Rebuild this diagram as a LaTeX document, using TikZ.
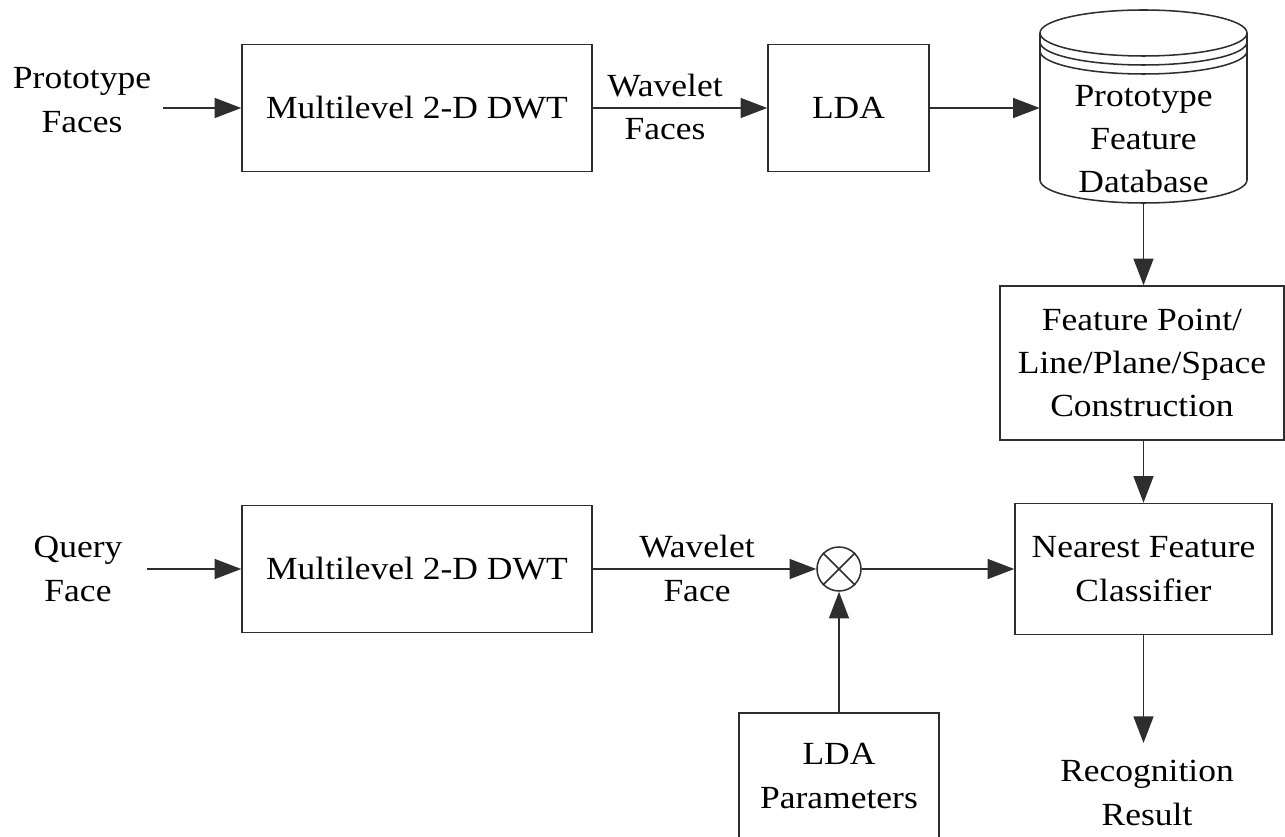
\documentclass[tikz,border=0pt]{standalone}
\usepackage{fontspec}
\setmainfont{Liberation Serif}[FakeStretch=1.1]
\usetikzlibrary{arrows.meta}
\definecolor{lc}{gray}{0.18}
\begin{document}
\begin{tikzpicture}[x=0.75pt,y=-0.75pt,
  every node/.style={font=\fontsize{24.2}{32.4}\selectfont, align=center, inner sep=0pt},
  blk/.style={draw=lc, line width=1.15pt, rectangle},
  con/.style={draw=lc, line width=1.15pt, -{Triangle[length=20pt,width=15pt]}},
  ln/.style={draw=lc, line width=1.15pt}]
\useasboundingbox (0,0) rectangle (1285,837);

% top row
\node (pf) at (82,100) {Prototype\\Faces};
\coordinate (pfo) at (163,108);
\node[blk, minimum width=262.5pt, minimum height=95.25pt] (dwt1) at (417,108) {Multilevel 2-D DWT};
\node (wf1) at (665,107) {Wavelet\\Faces};
\node[blk, minimum width=120.75pt, minimum height=95.25pt] (lda) at (848.5,108) {LDA};

% database cylinder
\draw[ln] (1040,33) -- (1040,180) arc[start angle=180, end angle=0, x radius=103.5, y radius=23] -- (1247,33);
\draw[ln] (1143.5,33) ellipse [x radius=103.5, y radius=23];
\draw[ln] (1040,42) arc[start angle=180, end angle=0, x radius=103.5, y radius=23];
\draw[ln] (1040,51) arc[start angle=180, end angle=0, x radius=103.5, y radius=23];
\node[minimum width=155.25pt, minimum height=96pt] (db) at (1143.5,139) {Prototype\\Feature\\Database};

% right column
\node[blk, minimum width=213pt, minimum height=115.5pt] (fc) at (1142,363) {Feature Point/\\Line/Plane/Space\\Construction};
\node[blk, minimum width=192.75pt, minimum height=98.25pt] (nfc) at (1143.5,569) {Nearest Feature\\Classifier};
\coordinate (rr) at (1143.5,743);
\node (res) at (1147,793) {Recognition\\Result};

% bottom row
\node (qf) at (78,569) {Query\\Face};
\coordinate (qfo) at (147,569);
\node[blk, minimum width=262.5pt, minimum height=95.25pt] (dwt2) at (417,569) {Multilevel 2-D DWT};
\node (wf2) at (697,568.5) {Wavelet\\Face};
\node[draw=lc, line width=1.15pt, circle, minimum size=33pt] (ot) at (839,569) {};
\draw[ln] (ot.north east) -- (ot.south west) (ot.north west) -- (ot.south east);
\node[blk, minimum width=150pt, minimum height=94.5pt] (ldap) at (839,776) {LDA\\Parameters};

% connectors
\draw[con] (pfo) -- (dwt1.west);
\draw[con] (dwt1.east) -- (lda.west);
\draw[con] (lda.east) -- (lda.east -| db.west);
\draw[con] (db.south) -- (db.south |- fc.north);
\draw[con] (nfc.north |- fc.south) -- (nfc.north);
\draw[con] (nfc.south) -- (rr);
\draw[con] (qfo) -- (dwt2.west);
\draw[con] (dwt2.east) -- (ot.west);
\draw[con] (ot.east) -- (nfc.west);
\draw[con] (ldap.north) -- (ot.south);
\end{tikzpicture}
\end{document}
